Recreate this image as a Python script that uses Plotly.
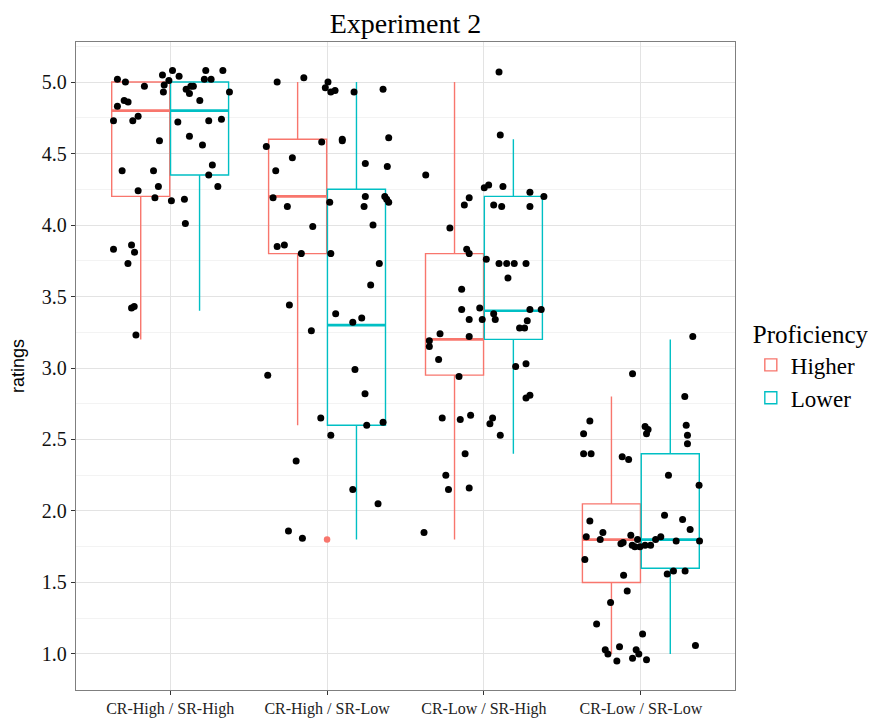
import plotly.graph_objects as go

# ---------------- data ----------------
categories = ["CR-High / SR-High", "CR-High / SR-Low", "CR-Low / SR-High", "CR-Low / SR-Low"]
cat_pos = [1, 2, 3, 4]

# box statistics per category (Higher / Lower proficiency)
higher_q1 = [4.20, 3.80, 2.95, 1.50]
higher_median = [4.80, 4.20, 3.20, 1.80]
higher_q3 = [5.00, 4.60, 3.80, 2.05]
higher_low = [3.20, 2.60, 1.80, 1.00]
higher_high = [5.00, 5.00, 5.00, 2.80]

lower_q1 = [4.35, 2.60, 3.20, 1.60]
lower_median = [4.80, 3.30, 3.40, 1.80]
lower_q3 = [5.00, 4.25, 4.20, 2.40]
lower_low = [3.40, 1.80, 2.40, 1.00]
lower_high = [5.00, 5.00, 4.60, 3.20]

# outlier of the Higher group, CR-High / SR-Low
outlier_x = [2]
outlier_y = [1.80]

# jittered raw ratings (x = jittered category position)
cat1_x = [0.664, 0.715, 0.664, 0.707, 0.732, 0.836, 0.639, 0.762, 0.796, 0.951,
          0.962, 0.992, 1.015, 1.057, 0.957, 1.102, 1.123, 1.132, 1.148, 1.227,
          1.218, 1.261, 1.336, 1.378, 1.189, 0.932, 1.049, 1.123, 1.246, 1.327,
          1.206, 0.694, 0.894, 0.796, 0.925, 0.903, 1.008, 1.091, 1.269, 1.246,
          1.304, 1.097, 0.639, 0.754, 0.773, 0.731, 0.754, 0.771, 0.782]
cat1_y = [5.02, 5.00, 4.83, 4.87, 4.86, 4.97, 4.73, 4.73, 4.76, 5.05,
          4.98, 5.01, 5.08, 5.04, 4.93, 4.95, 4.92, 4.97, 4.97, 5.08,
          5.02, 5.02, 5.08, 4.93, 4.87, 4.59, 4.72, 4.62, 4.73, 4.74,
          4.56, 4.38, 4.38, 4.24, 4.27, 4.19, 4.17, 4.18, 4.42, 4.35,
          4.27, 4.01, 3.83, 3.86, 3.81, 3.73, 3.42, 3.43, 3.23]

cat2_x = [1.682, 1.852, 2.006, 1.989, 2.024, 2.051, 2.172, 2.357, 1.613, 1.673,
          1.779, 1.966, 2.097, 2.097, 2.393, 2.244, 2.384, 1.656, 1.747, 2.017,
          2.244, 2.236, 2.368, 2.380, 2.393, 2.293, 1.909, 1.682, 1.728, 1.836,
          2.024, 2.333, 2.278, 1.760, 2.055, 2.164, 2.221, 1.900, 2.178, 1.622,
          2.242, 1.960, 2.253, 2.357, 2.024, 1.803, 2.164, 2.325, 1.754, 1.843]
cat2_y = [5.00, 5.03, 5.00, 4.96, 4.93, 4.94, 4.93, 4.95, 4.55, 4.38,
          4.47, 4.58, 4.60, 4.59, 4.61, 4.43, 4.41, 4.19, 4.13, 4.16,
          4.20, 4.13, 4.20, 4.18, 4.16, 4.00, 3.99, 3.85, 3.86, 3.80,
          3.80, 3.73, 3.58, 3.44, 3.38, 3.32, 3.35, 3.26, 2.99, 2.95,
          2.82, 2.65, 2.60, 2.62, 2.53, 2.35, 2.15, 2.05, 1.86, 1.81]

cat3_x = [3.096, 3.104, 2.629, 3.002, 3.030, 3.121, 3.293, 3.382, 2.906, 2.875,
          3.062, 3.113, 3.293, 2.783, 2.890, 2.906, 3.015, 3.096, 3.145, 3.193,
          3.268, 3.153, 2.858, 2.858, 2.973, 2.906, 2.989, 3.062, 3.072, 3.293,
          3.365, 3.276, 3.227, 3.259, 2.720, 2.906, 2.652, 2.652, 2.711, 3.202,
          3.268, 2.841, 3.268, 3.293, 2.734, 2.849, 2.915, 3.038, 3.055, 3.104,
          2.880, 2.757, 2.774, 2.906, 2.618]
cat3_y = [5.07, 4.63, 4.35, 4.26, 4.28, 4.27, 4.23, 4.20, 4.19, 4.14,
          4.14, 4.13, 4.13, 3.98, 3.83, 3.80, 3.76, 3.73, 3.73, 3.73,
          3.73, 3.63, 3.55, 3.41, 3.42, 3.34, 3.34, 3.38, 3.34, 3.41,
          3.41, 3.33, 3.28, 3.28, 3.24, 3.22, 3.19, 3.15, 3.06, 3.01,
          3.03, 2.94, 2.79, 2.81, 2.65, 2.64, 2.67, 2.61, 2.65, 2.53,
          2.40, 2.25, 2.15, 2.16, 1.85]

cat4_x = [4.331, 3.947, 4.280, 3.635, 3.675, 3.635, 3.683, 4.027, 4.046, 4.036,
          4.289, 4.297, 4.297, 3.881, 3.922, 4.176, 4.371, 3.675, 4.151, 4.266,
          4.314, 3.652, 3.758, 3.741, 3.936, 3.873, 3.887, 3.979, 3.945, 3.962,
          3.994, 4.027, 4.062, 4.094, 4.127, 4.225, 4.374, 3.643, 3.890, 4.168,
          4.208, 4.282, 3.913, 3.807, 3.718, 4.011, 3.773, 3.790, 3.864, 3.970,
          3.987, 3.847, 3.947, 4.036, 4.348]
cat4_y = [3.22, 2.96, 2.80, 2.54, 2.63, 2.40, 2.40, 2.59, 2.57, 2.54,
          2.60, 2.53, 2.47, 2.38, 2.36, 2.25, 2.18, 1.93, 1.97, 1.94,
          1.87, 1.82, 1.85, 1.80, 1.83, 1.77, 1.78, 1.80, 1.76, 1.75,
          1.75, 1.76, 1.76, 1.80, 1.82, 1.79, 1.79, 1.66, 1.55, 1.56,
          1.58, 1.58, 1.44, 1.36, 1.21, 1.14, 1.03, 1.00, 1.05, 1.03,
          1.00, 0.95, 0.97, 0.96, 1.06]

y_ticks = [1.0, 1.5, 2.0, 2.5, 3.0, 3.5, 4.0, 4.5, 5.0]

# ---------------- styling ----------------
RED = "#F8766D"
CYAN = "#00BFC4"
SERIF = "Liberation Serif, Times New Roman, serif"
SANS = "Liberation Sans, Arial, sans-serif"
dodge = 0.1875
box_w = 0.37

# the page adds an 8px body margin, so the figure is 8px smaller on each used side
FIG_W, FIG_H = 868, 711

fig = go.Figure()

higher_x = [c - dodge for c in cat_pos]
lower_x = [c + dodge for c in cat_pos]

fig.add_trace(go.Box(
    name="Higher", x=higher_x, q1=higher_q1, median=higher_median, q3=higher_q3,
    lowerfence=higher_low, upperfence=higher_high, width=box_w,
    line=dict(color=RED, width=1.4), fillcolor="rgba(255,255,255,0)",
    whiskerwidth=0, boxpoints=False, hoverinfo="skip",
))
fig.add_trace(go.Box(
    name="Lower", x=lower_x, q1=lower_q1, median=lower_median, q3=lower_q3,
    lowerfence=lower_low, upperfence=lower_high, width=box_w,
    line=dict(color=CYAN, width=1.4), fillcolor="rgba(255,255,255,0)",
    whiskerwidth=0, boxpoints=False, hoverinfo="skip",
))

# thicker median lines (ggplot style)
def median_segments(xs, meds):
    sx, sy = [], []
    for xc, m in zip(xs, meds):
        sx += [xc - box_w / 2, xc + box_w / 2, None]
        sy += [m, m, None]
    return sx, sy

for xs, meds, col in [(higher_x, higher_median, RED), (lower_x, lower_median, CYAN)]:
    sx, sy = median_segments(xs, meds)
    fig.add_trace(go.Scatter(x=sx, y=sy, mode="lines", line=dict(color=col, width=2.6),
                             showlegend=False, hoverinfo="skip"))

# outlier
fig.add_trace(go.Scatter(x=outlier_x, y=outlier_y, mode="markers",
                         marker=dict(color=RED, size=6.5), showlegend=False, hoverinfo="skip"))

# jittered points
all_x = cat1_x + cat2_x + cat3_x + cat4_x
all_y = cat1_y + cat2_y + cat3_y + cat4_y
fig.add_trace(go.Scatter(x=all_x, y=all_y, mode="markers",
                         marker=dict(color="black", size=7), showlegend=False, hoverinfo="skip"))

fig.update_layout(
    width=FIG_W, height=FIG_H,
    margin=dict(l=68, r=141, t=34, b=29, autoexpand=False),
    paper_bgcolor="white", plot_bgcolor="white",
    boxmode="overlay",
    title=dict(text="Experiment 2", x=0.5, xref="paper", xanchor="center",
               y=1 - 15 / FIG_H, yref="container", yanchor="middle",
               font=dict(family=SERIF, size=28, color="black")),
    legend=dict(title=dict(text="Proficiency", font=dict(family=SERIF, size=25, color="black")),
                font=dict(family=SERIF, size=23, color="black"),
                x=1.024, xanchor="left", y=0.585, yanchor="top",
                bgcolor="rgba(255,255,255,0)", tracegroupgap=0, itemwidth=30),
    showlegend=True,
)

fig.update_xaxes(
    range=[0.4, 4.6], tickmode="array", tickvals=cat_pos, ticktext=categories,
    showgrid=True, gridcolor="#e3e3e3", gridwidth=1.2, zeroline=False, automargin=False,
    showline=True, mirror=True, linecolor="#7f7f7f", linewidth=1.3,
    ticks="outside", ticklen=4, tickcolor="#333333", tickwidth=1.2,
    tickfont=dict(family=SERIF, size=16, color="#222222"),
)
fig.update_yaxes(
    range=[0.748, 5.28], tickmode="array", tickvals=y_ticks,
    ticktext=[f"{v:.1f}" for v in y_ticks],
    showgrid=True, gridcolor="#e3e3e3", gridwidth=1.2, zeroline=False, automargin=False,
    minor=dict(tickmode="linear", tick0=0.75, dtick=0.5, showgrid=True,
               gridcolor="#f3f3f3", gridwidth=1, ticks=""),
    showline=True, mirror=True, linecolor="#7f7f7f", linewidth=1.3,
    ticks="outside", ticklen=4, tickcolor="#333333", tickwidth=1.2,
    tickfont=dict(family=SERIF, size=20, color="#111111"),
    title=dict(text="ratings", font=dict(family=SANS, size=18, color="black"), standoff=18),
)

fig.write_html("out.html")
